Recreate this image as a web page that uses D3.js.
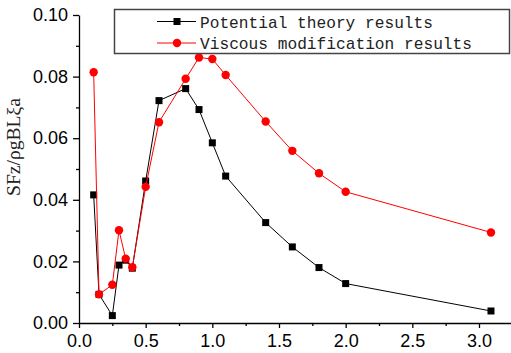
<!DOCTYPE html>
<html>
<head>
<meta charset="utf-8">
<script src="https://cdn.jsdelivr.net/npm/d3@7"></script>
<style>
  body { margin: 0; background: #fff; }
  svg { display: block; }
</style>
</head>
<body>
<div id="chart"></div>
<script>
// data
const X_VALS = [0.11, 0.15, 0.25, 0.3, 0.35, 0.4, 0.5, 0.6, 0.8, 0.9, 1.0, 1.1, 1.4, 1.6, 1.8, 2.0, 3.09];
const POTENTIAL = [0.0416, 0.0093, 0.0024, 0.0188, 0.0204, 0.0178, 0.0461, 0.0722, 0.0761, 0.0693,
                   0.0585, 0.0477, 0.0326, 0.0247, 0.0180, 0.0128, 0.0039];
const VISCOUS = [0.0814, 0.0093, 0.0124, 0.0301, 0.0209, 0.0181, 0.0442, 0.0652, 0.0793, 0.0862,
                 0.0857, 0.0805, 0.0654, 0.0559, 0.0486, 0.0426, 0.0294];
const SERIES_NAMES = ["Potential theory results", "Viscous modification results"];
const X_TICKS = [0, 0.5, 1.0, 1.5, 2.0, 2.5, 3.0];
const X_MINOR = [0.25, 0.75, 1.25, 1.75, 2.25, 2.75];
const Y_TICKS = [0, 0.02, 0.04, 0.06, 0.08, 0.10];
const Y_MINOR = [0.01, 0.03, 0.05, 0.07, 0.09];
const Y_LABEL = "SFz/ρgBLξa";

// frame
const FRAME_WIDTH = 511;
const FRAME_HEIGHT = 353;
const MARGINS = {left: 79, right: 0, top: 15, bottom: 30};
const VIS_HEIGHT = FRAME_HEIGHT - MARGINS.top - MARGINS.bottom;

const svg = d3.select("#chart")
  .append("svg")
    .attr("width", FRAME_WIDTH)
    .attr("height", FRAME_HEIGHT);

// scales
const X_SCALE = d3.scaleLinear()
  .domain([0, 3.24])
  .range([MARGINS.left, MARGINS.left + 133.33 * 3.24]);
const Y_SCALE = d3.scaleLinear()
  .domain([0, 0.10])
  .range([MARGINS.top + VIS_HEIGHT, MARGINS.top]);

// axes
svg.append("g")
  .attr("transform", `translate(0,${MARGINS.top + VIS_HEIGHT})`)
  .call(d3.axisBottom(X_SCALE).tickValues(X_TICKS).tickSize(5).tickSizeOuter(0)
        .tickFormat(d3.format(".1f")).tickPadding(6));
svg.append("g")
  .attr("transform", `translate(0,${MARGINS.top + VIS_HEIGHT})`)
  .call(d3.axisBottom(X_SCALE).tickValues(X_MINOR).tickSize(3).tickFormat(""))
  .call(g => g.select(".domain").remove());

svg.append("g")
  .attr("transform", `translate(${MARGINS.left},0)`)
  .call(d3.axisLeft(Y_SCALE).tickValues(Y_TICKS).tickSize(6).tickSizeOuter(0)
        .tickFormat(d3.format(".2f")).tickPadding(5));
svg.append("g")
  .attr("transform", `translate(${MARGINS.left},0)`)
  .call(d3.axisLeft(Y_SCALE).tickValues(Y_MINOR).tickSize(3).tickFormat(""))
  .call(g => g.select(".domain").remove());

svg.selectAll(".domain, .tick line")
  .attr("stroke", "#000")
  .attr("stroke-width", 1.3);
svg.selectAll(".tick text")
  .attr("fill", "#000")
  .style("font-family", "'Liberation Sans', Arial, sans-serif")
  .style("font-size", "18px");

// y label
svg.append("text")
  .attr("transform", "translate(20,147) rotate(-90)")
  .attr("text-anchor", "middle")
  .style("font-family", "'Liberation Serif', 'DejaVu Serif', serif")
  .style("font-size", "18px")
  .attr("fill", "#222")
  .attr("textLength", 98)
  .attr("lengthAdjust", "spacingAndGlyphs")
  .text(Y_LABEL);

// lines and markers
const line = d3.line()
  .x((d, i) => X_SCALE(X_VALS[i]))
  .y(d => Y_SCALE(d));

svg.append("path")
  .datum(POTENTIAL)
  .attr("d", line)
  .attr("fill", "none")
  .attr("stroke", "#000")
  .attr("stroke-width", 1);

svg.selectAll(".sq")
  .data(POTENTIAL)
  .enter()
  .append("rect")
    .attr("class", "sq")
    .attr("x", (d, i) => X_SCALE(X_VALS[i]) - 3.5)
    .attr("y", d => Y_SCALE(d) - 3.5)
    .attr("width", 7)
    .attr("height", 7)
    .attr("fill", "#000");

svg.append("path")
  .datum(VISCOUS)
  .attr("d", line)
  .attr("fill", "none")
  .attr("stroke", "#f00")
  .attr("stroke-width", 1);

svg.selectAll(".dot")
  .data(VISCOUS)
  .enter()
  .append("circle")
    .attr("class", "dot")
    .attr("cx", (d, i) => X_SCALE(X_VALS[i]))
    .attr("cy", d => Y_SCALE(d))
    .attr("r", 4.2)
    .attr("fill", "#f00");

// legend
const legend = svg.append("g");
legend.append("rect")
  .attr("x", 114.5)
  .attr("y", 9.5)
  .attr("width", 395)
  .attr("height", 44)
  .attr("fill", "#fff")
  .attr("stroke", "#444")
  .attr("stroke-width", 1.5);

const LEG_ROWS = [21.5, 43];
const LEG_COLORS = ["#000", "#f00"];
const LEG_WIDTHS = [233, 272];
SERIES_NAMES.forEach((name, i) => {
  const y = LEG_ROWS[i];
  legend.append("line")
    .attr("x1", 157).attr("x2", 196)
    .attr("y1", y).attr("y2", y)
    .attr("stroke", LEG_COLORS[i])
    .attr("stroke-width", 1);
  if (i === 0) {
    legend.append("rect")
      .attr("x", 173.5).attr("y", y - 3.5)
      .attr("width", 7).attr("height", 7)
      .attr("fill", "#000");
  } else {
    legend.append("circle")
      .attr("cx", 177).attr("cy", y)
      .attr("r", 4.2)
      .attr("fill", "#f00");
  }
  legend.append("text")
    .attr("x", 200)
    .attr("y", y + 6)
    .style("font-family", "'Liberation Mono', 'Courier New', monospace")
    .style("font-size", "17px")
    .attr("fill", "#222")
    .attr("textLength", LEG_WIDTHS[i])
    .attr("lengthAdjust", "spacingAndGlyphs")
    .text(name);
});
</script>
</body>
</html>
